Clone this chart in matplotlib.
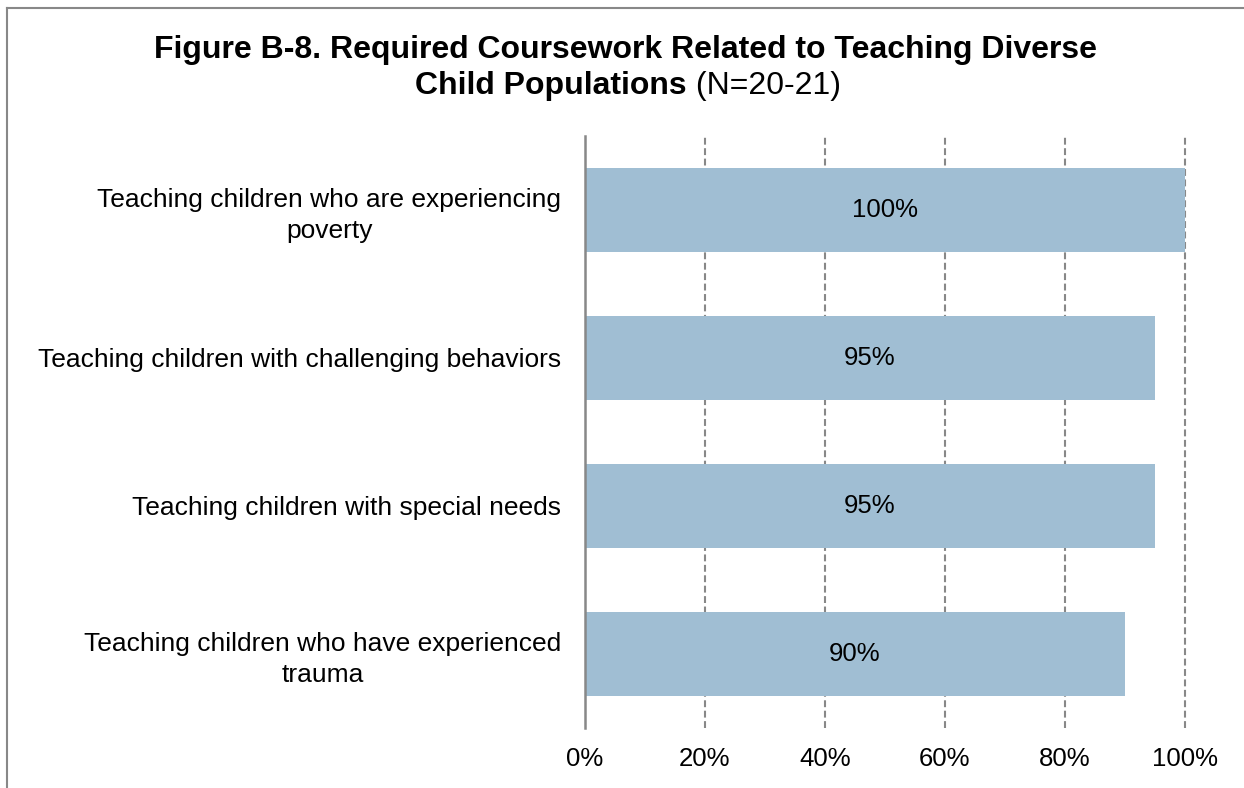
import matplotlib
matplotlib.use('Agg')
import matplotlib.pyplot as plt
from matplotlib.lines import Line2D

plt.rcParams['font.family'] = ['Liberation Sans', 'DejaVu Sans']

categories = ['Teaching children who are experiencing\npoverty',
              'Teaching children with challenging behaviors',
              'Teaching children with special needs',
              'Teaching children who have experienced\ntrauma']
values = [100, 95, 95, 90]
xticks = [0, 20, 40, 60, 80, 100]

W, H = 1244, 788
fig = plt.figure(figsize=(W / 100, H / 100), dpi=100)
ax = fig.add_axes([585 / W, 1 - 728 / H, 600 / W, 592 / H])

bar_col = '#A0BED3'
ypos = list(range(len(categories)))
ax.barh(ypos, values, height=0.57, color=bar_col, zorder=2)
for y, v in zip(ypos, values):
    ax.text(v / 2, y, f'{v}%', ha='center', va='center', fontsize=18.5, color='black', zorder=3)

ax.set_xlim(0, 100)
ax.set_ylim(len(categories) - 0.5, -0.5)
ax.set_yticks(ypos)
ax.set_yticklabels(categories, fontsize=19, multialignment='center', linespacing=1.35)
ax.set_xticks(xticks)
ax.set_xticklabels([f'{t}%' for t in xticks], fontsize=18.5)
ax.tick_params(axis='y', length=0, pad=17)
ax.tick_params(axis='x', length=0, pad=14)

for t in xticks[1:]:
    ax.axvline(t, color='#888888', lw=1.5, ls=(0, (3.3, 1.7)), zorder=1, clip_on=False)

for s in ['top', 'right', 'bottom']:
    ax.spines[s].set_visible(False)
ax.spines['left'].set_color('#888888')
ax.spines['left'].set_linewidth(1.8)

# title, two lines; the N part is not bold
fig.text(626 / W, 1 - 50 / H, 'Figure B-8. Required Coursework Related to Teaching Diverse',
         ha='center', va='center', fontsize=23, fontweight='bold')
t2 = fig.text(415 / W, 1 - 86 / H, 'Child Populations', ha='left', va='center',
              fontsize=23, fontweight='bold')
ax.annotate(' (N=20-21)', xy=(1, 0.5), xycoords=t2, ha='left', va='center', fontsize=23)

# border of the chart area
fig.add_artist(Line2D([7 / W, 7 / W], [0, 1 - 8 / H], transform=fig.transFigure, color='#888888', lw=1.5))
fig.add_artist(Line2D([7 / W, 1], [1 - 8 / H, 1 - 8 / H], transform=fig.transFigure, color='#888888', lw=1.5))

fig.savefig('out.png', dpi=100)
